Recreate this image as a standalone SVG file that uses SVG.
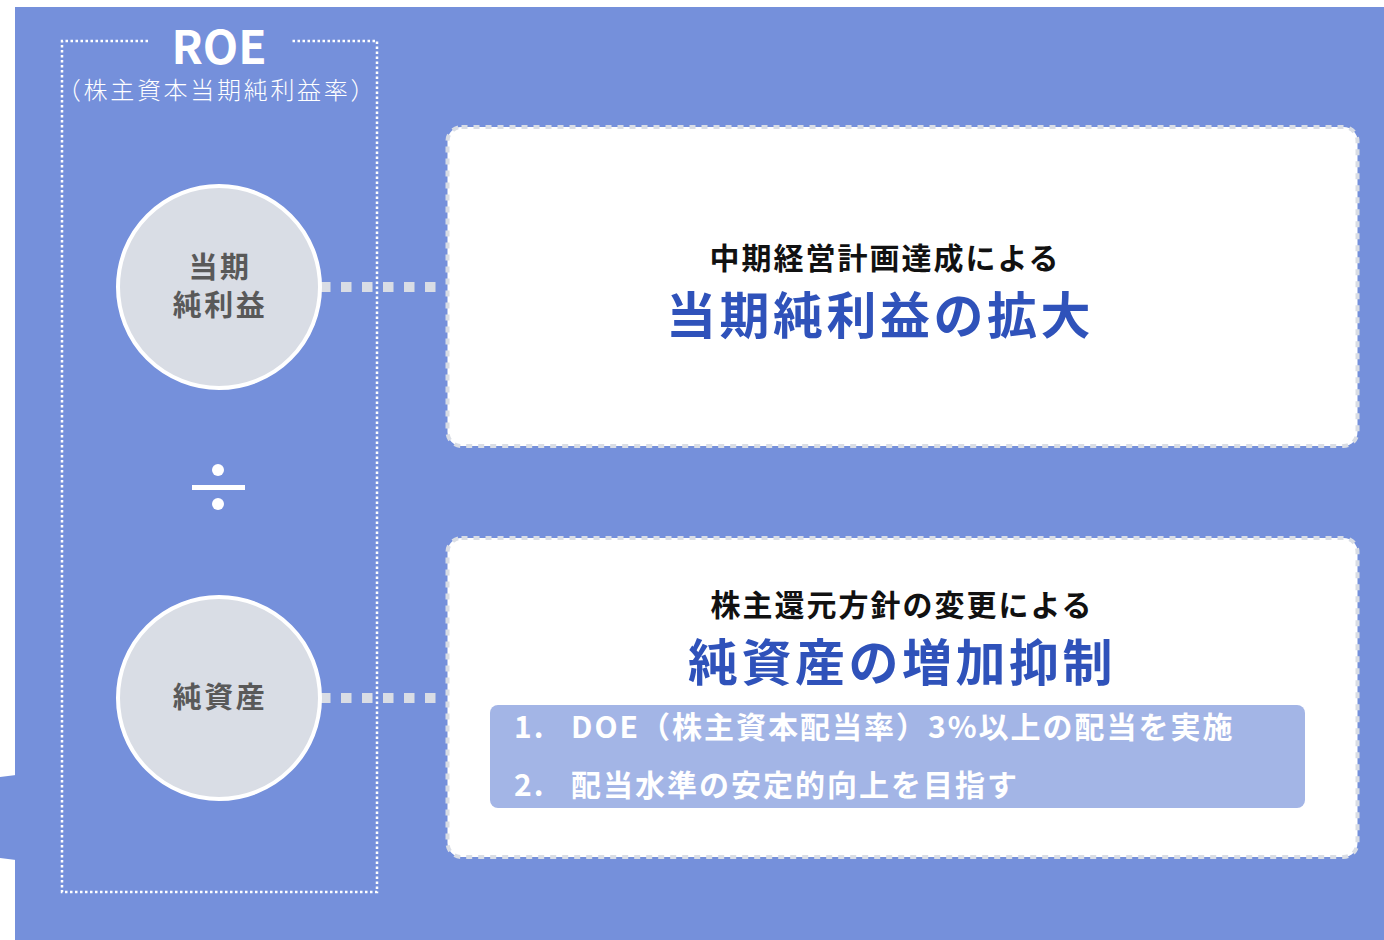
<svg xmlns="http://www.w3.org/2000/svg" width="1384" height="940" viewBox="0 0 1384 940">
<defs>
<style>
.jp{font-family:"Noto Sans CJK JP","Noto Sans",sans-serif;}
.circ{fill:#D9DDE5;stroke:#FFFFFF;stroke-width:4;}
.ctext{font-size:29px;font-weight:bold;fill:#595959;letter-spacing:2.5px;}
.box{fill:#FFFFFF;stroke:#D9DDE5;stroke-width:4;stroke-dasharray:6 6;}
.conn{stroke:#D9DDE5;stroke-width:10;stroke-dasharray:10.5 10.5;fill:none;}
.sub{font-size:30px;font-weight:bold;fill:#111111;letter-spacing:2px;}
.main{font-size:50px;font-weight:bold;fill:#2F52BA;letter-spacing:3.5px;}
.li{font-size:30px;font-weight:bold;fill:#FFFFFF;letter-spacing:2px;}
</style>
</defs>
<rect x="0" y="0" width="1384" height="940" fill="#FFFFFF"/>
<rect x="15" y="7" width="1369" height="933" fill="#7590DB"/>
<polygon points="0,777 16,775 16,860 0,858" fill="#7590DB"/>

<g id="roe-frame">
<path d="M148,41 H62 V892 H377 V41 H291" fill="none" stroke="#FFFFFF" stroke-width="2.5" stroke-dasharray="2.5 2.5"/>
<text class="jp" x="219" y="64" text-anchor="middle" font-size="46" font-weight="bold" fill="#FFFFFF">ROE</text>
<text class="jp" x="217" y="99" text-anchor="middle" font-size="24" font-weight="300" letter-spacing="2.7" fill="#FFFFFF">（株主資本当期純利益率）</text>
</g>

<g id="connectors">
<line class="conn" x1="320" y1="287" x2="440" y2="287"/>
<line class="conn" x1="320" y1="698" x2="440" y2="698"/>
</g>

<g id="node-net-income">
<circle class="circ" cx="219" cy="287" r="101"/>
<text class="jp ctext" x="220" y="278" text-anchor="middle">当期</text>
<text class="jp ctext" x="220" y="316" text-anchor="middle">純利益</text>
</g>

<g id="divide">
<circle cx="218" cy="470" r="6" fill="#FFFFFF"/>
<rect x="192" y="485" width="53" height="5" fill="#FFFFFF"/>
<circle cx="218" cy="504" r="6" fill="#FFFFFF"/>
</g>

<g id="node-net-assets">
<circle class="circ" cx="219" cy="698" r="101"/>
<text class="jp ctext" x="220" y="708" text-anchor="middle">純資産</text>
</g>

<g id="box-top">
<rect class="box" x="447.5" y="127" width="910" height="319" rx="14"/>
<text class="jp sub" x="885" y="269" text-anchor="middle">中期経営計画達成による</text>
<text class="jp main" x="880" y="334" text-anchor="middle">当期純利益の拡大</text>
</g>

<g id="box-bottom">
<rect class="box" x="447.5" y="538" width="910" height="319" rx="14"/>
<text class="jp sub" x="902" y="616" text-anchor="middle">株主還元方針の変更による</text>
<text class="jp main" x="902" y="681" text-anchor="middle">純資産の増加抑制</text>
<rect x="490" y="705" width="815" height="103" rx="8" fill="#A3B5E6"/>
<text class="jp li" x="514" y="738">1.</text>
<text class="jp li" x="571" y="738">DOE（株主資本配当率）3%以上の配当を実施</text>
<text class="jp li" x="514" y="796">2.</text>
<text class="jp li" x="571" y="796">配当水準の安定的向上を目指す</text>
</g>
</svg>
